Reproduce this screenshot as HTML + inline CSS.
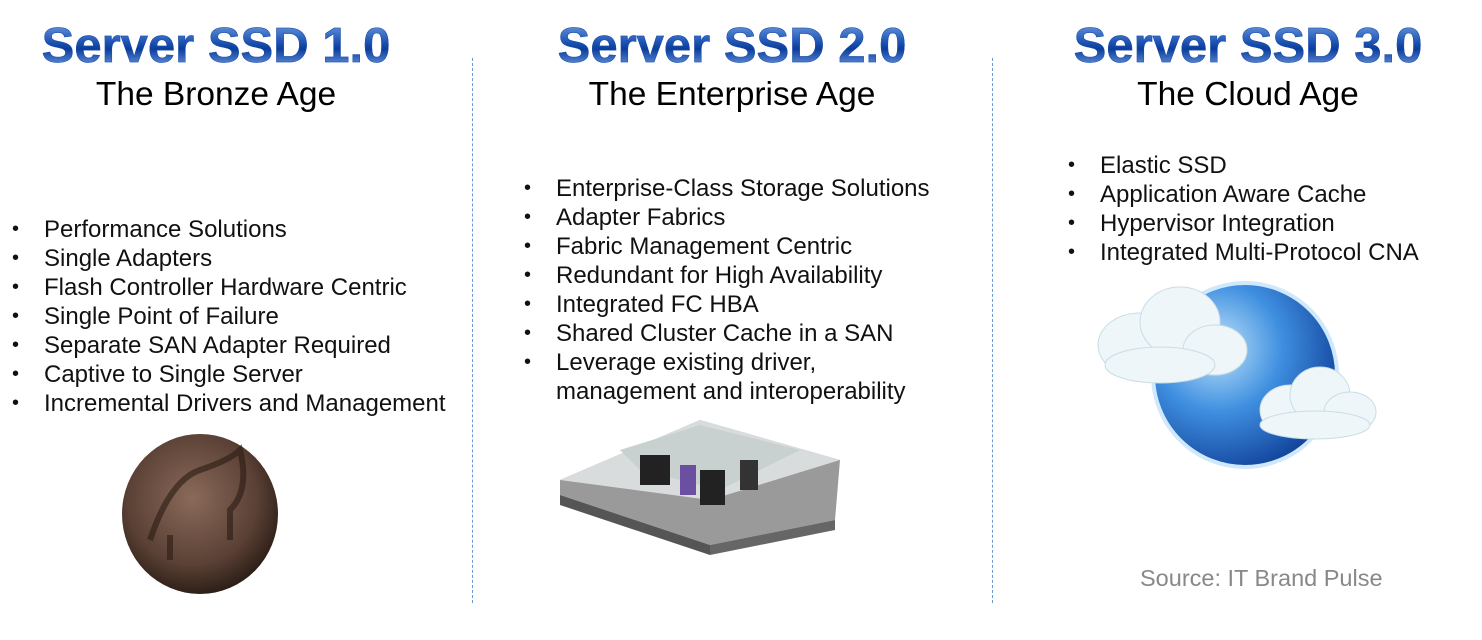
<!DOCTYPE html>
<html><head><meta charset="utf-8"><style>
body{margin:0;width:1482px;height:640px;background:#fff;position:relative;overflow:hidden;font-family:"Liberation Sans",sans-serif}
.t{position:absolute;width:520px;text-align:center;font-weight:bold;font-size:49px;line-height:49px;
background:linear-gradient(#6f9ee0 0%,#1f55b5 40%,#0a3d9c 55%,#7eaaf0 100%);-webkit-background-clip:text;background-clip:text;color:transparent;-webkit-text-stroke:0.5px #1d4fa8}
.s{position:absolute;width:520px;text-align:center;font-size:33.5px;line-height:34px;color:#000}
ul{position:absolute;margin:0;padding:0;list-style:none;font-size:24px;line-height:29px;color:#111}
li{position:relative;padding-left:32px;white-space:nowrap}
li:before{content:"•";position:absolute;left:0;font-size:20px}
.d{position:absolute;top:58px;height:545px;border-left:1px dashed #6a9bd8}
</style></head><body>
<div class="d" style="left:472px"></div><div class="d" style="left:992px"></div>
<div class="t" style="left:-44px;top:22px">Server SSD 1.0</div>
<div class="t" style="left:472px;top:22px">Server SSD 2.0</div>
<div class="t" style="left:988px;top:22px">Server SSD 3.0</div>
<div class="s" style="left:-44px;top:78px">The Bronze Age</div>
<div class="s" style="left:472px;top:78px">The Enterprise Age</div>
<div class="s" style="left:988px;top:78px">The Cloud Age</div>
<ul style="left:12px;top:215px"><li>Performance Solutions</li><li>Single Adapters</li><li>Flash Controller Hardware Centric</li><li>Single Point of Failure</li><li>Separate SAN Adapter Required</li><li>Captive to Single Server</li><li>Incremental Drivers and Management</li></ul>
<ul style="left:524px;top:174px"><li>Enterprise-Class Storage Solutions</li><li>Adapter Fabrics</li><li>Fabric Management Centric</li><li>Redundant for High Availability</li><li>Integrated FC HBA</li><li>Shared Cluster Cache in a SAN</li><li>Leverage existing driver,<br>management and interoperability</li></ul>
<ul style="left:1068px;top:151px"><li>Elastic SSD</li><li>Application Aware Cache</li><li>Hypervisor Integration</li><li>Integrated Multi-Protocol CNA</li></ul>
<div style="position:absolute;left:1140px;top:565px;font-size:23.5px;color:#888">Source: IT Brand Pulse</div>
<svg style="position:absolute;left:0;top:0" width="1482" height="640">
<defs>
<radialGradient id="c" cx="45%" cy="40%" r="60%"><stop offset="0" stop-color="#8a6a5a"/><stop offset="0.7" stop-color="#5a4035"/><stop offset="1" stop-color="#2e2018"/></radialGradient>
<radialGradient id="g" cx="35%" cy="35%" r="70%"><stop offset="0" stop-color="#bfe4fa"/><stop offset="0.5" stop-color="#3f8fe0"/><stop offset="1" stop-color="#12449c"/></radialGradient>
</defs>
<ellipse cx="200" cy="514" rx="78" ry="80" fill="url(#c)"/>
<path d="M150 540 q20-60 50-70 q30-10 40 -20 q10 40 -10 60 l0 30 m-60 -5 l0 25" stroke="#2a1a12" stroke-width="6" fill="none" opacity="0.6"/>
<polygon points="560,480 700,420 840,460 835,520 710,545 560,495" fill="#9a9a9a"/>
<polygon points="560,480 700,420 840,460 710,500" fill="#d8dcdc"/>
<polygon points="620,450 700,425 800,450 720,490 640,470" fill="#c8d0d0"/>
<rect x="640" y="455" width="30" height="30" fill="#222"/><rect x="700" y="470" width="25" height="35" fill="#222"/><rect x="680" y="465" width="16" height="30" fill="#6b4fa0"/><rect x="740" y="460" width="18" height="30" fill="#333"/>
<polygon points="560,495 710,545 710,555 560,505" fill="#555"/><polygon points="710,545 835,520 835,530 710,555" fill="#666"/>
<circle cx="1245" cy="375" r="92" fill="url(#g)"/>
<circle cx="1245" cy="375" r="92" fill="none" stroke="#cfe8fb" stroke-width="4"/>
<g fill="#eef6fa" stroke="#c9dde6"><ellipse cx="1140" cy="345" rx="42" ry="32"/><ellipse cx="1180" cy="322" rx="40" ry="35"/><ellipse cx="1215" cy="350" rx="32" ry="25"/><ellipse cx="1160" cy="365" rx="55" ry="18"/>
<ellipse cx="1290" cy="410" rx="30" ry="25"/><ellipse cx="1320" cy="395" rx="30" ry="28"/><ellipse cx="1350" cy="412" rx="26" ry="20"/><ellipse cx="1315" cy="425" rx="55" ry="14"/></g>
</svg>
</body></html>
